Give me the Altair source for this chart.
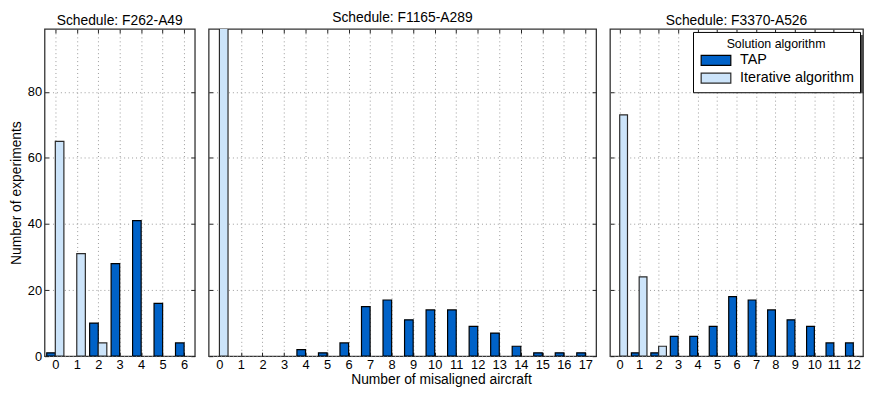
import altair as alt
import pandas as pd

ALGOS = ["TAP", "Iterative algorithm"]
TITLES = ["Schedule: F262-A49", "Schedule: F1165-A289", "Schedule: F3370-A526"]
Y_TICKS = [0, 20, 40, 60, 80]
Y_MAX = 99

misaligned_a = [0, 1, 2, 3, 4, 5, 6]
tap_a = [1, 0, 10, 28, 41, 16, 4]
iter_a = [65, 31, 4, 0, 0, 0, 0]

misaligned_b = [0, 1, 2, 3, 4, 5, 6, 7, 8, 9, 10, 11, 12, 13, 14, 15, 16, 17]
tap_b = [0, 0, 0, 0, 2, 1, 4, 15, 17, 11, 14, 14, 9, 7, 3, 1, 1, 1]
iter_b = [100, 0, 0, 0, 0, 0, 0, 0, 0, 0, 0, 0, 0, 0, 0, 0, 0, 0]

misaligned_c = [0, 1, 2, 3, 4, 5, 6, 7, 8, 9, 10, 11, 12]
tap_c = [0, 1, 1, 6, 6, 9, 18, 17, 14, 11, 9, 4, 4]
iter_c = [73, 24, 3, 0, 0, 0, 0, 0, 0, 0, 0, 0, 0]

FONT = "Liberation Sans"
FILLS = ["#0062C8", "#CCE4FA"]
STROKES = ["#000000", "#2a2a2a"]
HEIGHT = 331
WIDTHS = [152, 392, 256]
SPACING = 10
LEG_W = 167
LEG_H = 58


def make_df(ks, tap, it):
    rows = []
    for k, v in zip(ks, tap):
        rows.append({"k": k, "algo": ALGOS[0], "count": v})
    for k, v in zip(ks, it):
        rows.append({"k": k, "algo": ALGOS[1], "count": v})
    return pd.DataFrame(rows)


def panel(ks, tap, it, title, width, idx):
    df = make_df(ks, tap, it)
    n = len(ks)
    xs = alt.Scale(domain=[-0.5, n - 0.5], nice=False, zero=False)
    ys = alt.Scale(domain=[0, Y_MAX], nice=False, zero=True)
    first = idx == 0
    mid = idx == 1
    last = idx == 2

    xkw = dict(orient="bottom", values=ks, format="d", grid=True, domain=False,
               ticks=True, tickSize=4, offset=-4, labelPadding=2, titlePadding=2)
    if mid:
        xkw.update(title="Number of misaligned aircraft", titleX=235, titleAlign="center")
    else:
        xkw.update(title="")
    ykw = dict(orient="left", values=Y_TICKS, grid=True, domain=False,
               ticks=True, tickSize=4, offset=-4, labelPadding=3, labels=first,
               titlePadding=4)
    if first:
        ykw.update(title="Number of experiments")
    else:
        ykw.update(title="")

    base = alt.Chart(df).transform_filter("datum.count > 0").transform_calculate(
        x0="datum.k + (datum.algo == 'TAP' ? -0.4 : 0)",
        x1="datum.k + (datum.algo == 'TAP' ? 0 : 0.4)",
    )

    fill_kw = dict(scale=alt.Scale(domain=ALGOS, range=FILLS))
    if last:
        fill_kw["legend"] = alt.Legend(
            title="Solution algorithm", orient="top-right", offset=3,
            symbolType="M-1,-1H5V1H-1Z", symbolSize=100,
            symbolStrokeColor="#111", symbolStrokeWidth=1.2,
            labelFontSize=14.5, labelOffset=27, titleFontSize=12.5,
            titleFontWeight="normal", titleAnchor="middle", titlePadding=3,
            fillColor="white", strokeColor="#000", padding=6, rowPadding=2,
        )
    else:
        fill_kw["legend"] = None

    bars = base.mark_rect(clip=True, strokeWidth=1.2).encode(
        x=alt.X("x0:Q", scale=xs, axis=alt.Axis(**xkw)),
        x2="x1:Q",
        y=alt.Y("count:Q", scale=ys, axis=alt.Axis(**ykw)),
        y2=alt.datum(0),
        fill=alt.Fill("algo:N", **fill_kw),
        stroke=alt.Stroke("algo:N", scale=alt.Scale(domain=ALGOS, range=STROKES), legend=None),
    )

    axes2 = base.mark_rect(opacity=0).encode(
        x=alt.X("x0:Q", scale=xs, axis=alt.Axis(orient="top", values=ks, labels=False, grid=False,
                                                domain=False, tickSize=4, offset=-4, title="")),
        x2="x1:Q",
        y=alt.Y("count:Q", scale=ys, axis=alt.Axis(orient="right", values=Y_TICKS, labels=False,
                                                  grid=False, domain=False, tickSize=4, offset=-4,
                                                  title="")),
        y2=alt.datum(0),
    )

    layers = [bars, axes2]
    if last:
        shadow = alt.Chart(alt.Data(values=[{"a": 1}])).mark_rect(color="#4a4a4a").encode(
            x=alt.value(width - LEG_W), x2=alt.value(width),
            y=alt.value(6), y2=alt.value(LEG_H + 6),
        )
        layers = [shadow, bars, axes2]

    return alt.layer(*layers).properties(
        width=width, height=HEIGHT, title=alt.TitleParams(title, anchor="middle")
    )


p1 = panel(misaligned_a, tap_a, iter_a, TITLES[0], WIDTHS[0], 0)
p2 = panel(misaligned_b, tap_b, iter_b, TITLES[1], WIDTHS[1], 1)
p3 = panel(misaligned_c, tap_c, iter_c, TITLES[2], WIDTHS[2], 2)

chart = alt.hconcat(p1, p2, p3, spacing=SPACING).resolve_scale(
    fill="independent", stroke="independent"
).properties(
    padding={"left": 0, "top": 0, "right": 0, "bottom": 0}
).configure_view(
    stroke="#333333", strokeWidth=1.3
).configure_axis(
    labelFont=FONT, labelFontSize=13, labelColor="#000000",
    titleFont=FONT, titleFontSize=14, titleFontWeight="normal", titleColor="#000000",
    tickColor="#222222", tickWidth=1,
    gridColor="#9a9a9a", gridDash=[1, 3], gridWidth=1,
).configure_title(
    font=FONT, fontSize=14, fontWeight="normal", color="#000000", offset=1
).configure_legend(
    labelFont=FONT, titleFont=FONT, labelColor="#000000", titleColor="#000000"
)

chart.save("out.html", embed_options={"renderer": "svg", "actions": False})
